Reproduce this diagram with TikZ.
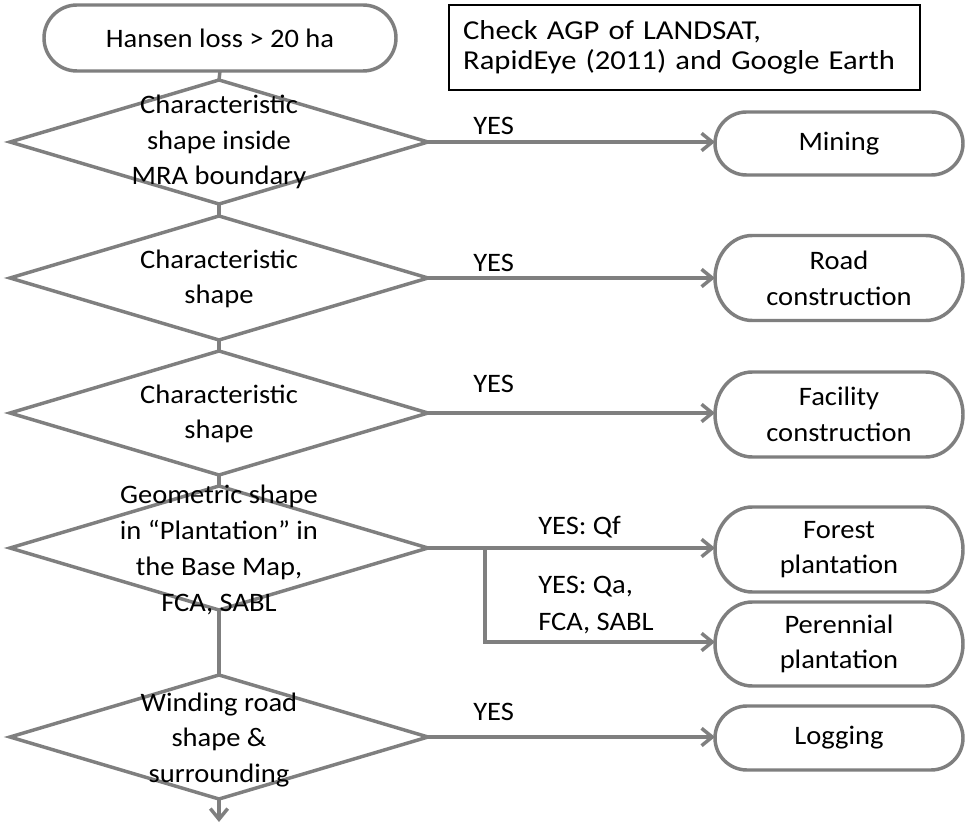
\documentclass[tikz,border=0pt]{standalone}
\usepackage{fontspec}
\setmainfont{Carlito}[FakeStretch=1.07]
\newfontfamily\notefont{Carlito}[FakeStretch=1.12]
\usetikzlibrary{arrows.meta,shapes.geometric,calc}
\definecolor{lg}{RGB}{127,127,127}
\begin{document}
\begin{tikzpicture}[x=0.75pt,y=-0.75pt,
  flow/.style={draw=lg,line width=2.6pt},
  arr/.style={flow,-{Straight Barb[length=8pt,width=13pt]}},
  txt/.style={font=\fontsize{20}{26.8}\selectfont,text=black},
  dia/.style={diamond,draw=lg,line width=2.6pt,minimum width=313.5pt,minimum height=93pt,inner sep=0pt,outer sep=0pt},
  dtxt/.style={txt,align=center,inner sep=0pt},
  term/.style={txt,align=center,inner sep=0pt,outer sep=0pt,minimum width=186pt},
  lbl/.style={txt,inner sep=0pt,align=left}
]
\useasboundingbox (0,0) rectangle (965,823);
\fill[white] (0,0) rectangle (965,823);

% diamonds
\node[dia] (d1) at (219,142) {};
\node[dia] (d2) at (219,278) {};
\node[dia] (d3) at (219,413) {};
\node[dia] (d4) at (219,548) {};
\node[dia] (d5) at (219,737) {};

% terminals
\node[term,minimum width=264pt,minimum height=49.5pt] (start) at (220,38) {Hansen loss > 20 ha};
\node[term,minimum height=47.25pt] (mining) at (839,143.5) {Mining};
\node[term,minimum height=63.75pt] (road) at (839,278) {Road\\construction};
\node[term,minimum height=63.75pt] (facility) at (839,414.5) {Facility\\construction};
\node[term,minimum height=63.75pt] (forest) at (839,549.5) {Forest\\plantation};
\node[term,minimum height=63pt] (perennial) at (839,644) {Perennial\\plantation};
\node[term,minimum height=48pt] (logging) at (839,738) {Logging};

\foreach \nm in {start,mining,road,facility,forest,perennial,logging}{
  \draw[flow] let \p1=(\nm.north west), \p2=(\nm.south east),
      \n1={abs(\y1-\y2)/2}, \n2={min(\n1,28)} in
    (\x1+\n2,\y1) -- (\x2-\n2,\y1)
    arc[start angle=90,end angle=-90,x radius=\n2,y radius=\n1]
    -- (\x1+\n2,\y2)
    arc[start angle=270,end angle=90,x radius=\n2,y radius=\n1] -- cycle;
}

% note box
\node[draw=black,line width=0.9pt,minimum width=353.25pt,minimum height=63.75pt,
      text width=332pt,inner xsep=10.6pt,align=left,
      font=\notefont\fontsize{20.5}{23}\selectfont] (note) at (684.5,47.5)
  {Check AGP of LANDSAT,\\RapidEye (2011) and Google Earth};

% diamond texts
\node[dtxt] (t1) at (219,142) {Characteristic\\shape inside\\MRA boundary};
\node[dtxt] (t2) at (219,279) {Characteristic\\shape};
\node[dtxt] (t3) at (219,414) {Characteristic\\shape};
\node[dtxt] (t4) at (219,550) {Geometric shape\\in “Plantation” in\\the Base Map,\\FCA, SABL};
\node[dtxt] (t5) at (219,740) {Winding road\\shape \&\\surrounding};

% vertical connectors
\draw[flow] (start.south) -- (d1.north);
\draw[flow] (d1.south) -- (d2.north);
\draw[flow] (d2.south) -- (d3.north);
\draw[flow] (d3.south) -- (d4.north);
\draw[flow] (d4.south) -- (d5.north);
\coordinate (out) at (219,822);
\draw[arr] (d5.south) -- (out);

% yes arrows
\draw[arr] (d1.east) -- (d1.east -| mining.west);
\draw[arr] (d2.east) -- (d2.east -| road.west);
\draw[arr] (d3.east) -- (d3.east -| facility.west);
\draw[arr] (d4.east) -- (d4.east -| forest.west);
\coordinate (br) at (485,548);
\coordinate (brb) at (485,642);
\draw[arr] (br) -- (brb) -- (brb -| perennial.west);
\draw[arr] (d5.east) -- (d5.east -| logging.west);

% labels
\node[lbl,anchor=base west] (y1) at (473,135) {YES};
\node[lbl,anchor=base west] (y2) at (473,272) {YES};
\node[lbl,anchor=base west] (y3) at (473,393) {YES};
\node[lbl,anchor=base west] (y4) at (538,535) {YES: Qf};
\node[lbl,anchor=west,font=\fontsize{20}{27.5}\selectfont] (y5) at (538,605) {YES: Qa,\\FCA, SABL};
\node[lbl,anchor=base west] (y6) at (473,720) {YES};
\end{tikzpicture}
\end{document}
